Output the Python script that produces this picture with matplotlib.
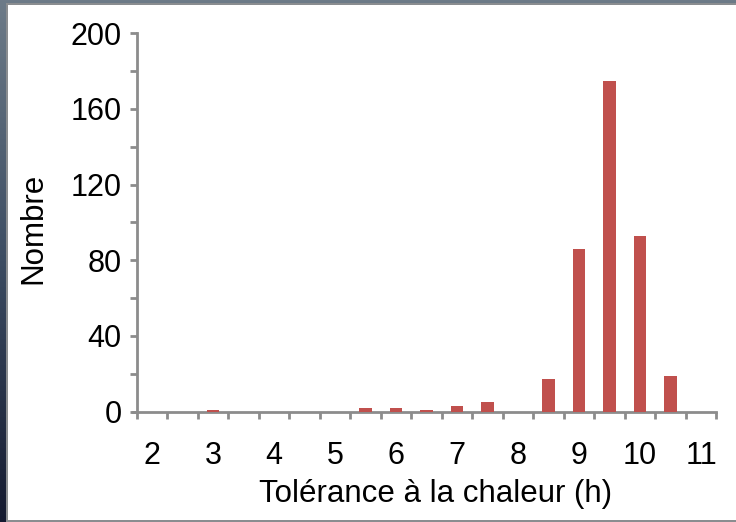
import numpy as np
import matplotlib
matplotlib.use("Agg")
import matplotlib.pyplot as plt
from matplotlib.patches import Rectangle
from matplotlib.colors import LinearSegmentedColormap

# tolerance classes in half-hours, 2 .. 11 h
hours = [2, 2.5, 3, 3.5, 4, 4.5, 5, 5.5, 6, 6.5, 7, 7.5, 8, 8.5, 9, 9.5, 10, 10.5, 11]
counts = [0, 0, 1, 0, 0, 0, 0, 2, 2, 1, 3, 5, 0, 17, 86, 175, 93, 19, 0]
tick_labels = ["2", "3", "4", "5", "6", "7", "8", "9", "10", "11"]

plt.rcParams["font.family"] = ["Liberation Sans", "DejaVu Sans"]

W, H = 736, 522
fig = plt.figure(figsize=(W / 100, H / 100), dpi=100)

# slide background behind the white chart area
bg = fig.add_axes([0, 0, 1, 1], zorder=-10)
cmap = LinearSegmentedColormap.from_list("bg", ["#6d7b88", "#3c4c62", "#141a30"])
bg.imshow(np.linspace(0, 1, 256).reshape(-1, 1), aspect="auto", cmap=cmap,
          extent=[0, 1, 0, 1])
bg.set_xlim(0, 1)
bg.set_ylim(0, 1)
bg.axis("off")
bg.add_patch(Rectangle((6 / W, 0), 1, 1 - 3 / H, facecolor="#8a8d90",
                       edgecolor="none"))
bg.add_patch(Rectangle((8 / W, 2 / H), 1, 1 - 7 / H, facecolor="white",
                       edgecolor="none"))

ax = fig.add_axes([136.7 / W, 1 - 411.5 / H, (716.3 - 136.7) / W, (411.5 - 33.3) / H])
ax.patch.set_alpha(0)

x = np.arange(len(hours))
ax.bar(x, counts, width=0.4, color="#C0504D", edgecolor="none", zorder=3)

ax.set_xlim(-0.5, len(hours) - 0.5)
ax.set_ylim(0, 200)

grey = "#8c8c8c"
for side in ["top", "right"]:
    ax.spines[side].set_visible(False)
for side in ["left", "bottom"]:
    ax.spines[side].set_color(grey)
    ax.spines[side].set_linewidth(2)
ax.spines["bottom"].set_bounds(-0.62, len(hours) - 0.5)

# y: tick every 20, label every 40
ax.set_yticks(np.arange(0, 201, 20))
ax.set_yticklabels([str(v) if v % 40 == 0 else "" for v in range(0, 201, 20)])
ax.tick_params(axis="y", direction="out", length=5, width=2, color=grey,
               labelsize=22, pad=6)

# x: marks between classes, labels on whole hours
ax.set_xticks(np.arange(-0.5, len(hours), 1.0))
ax.set_xticklabels([])
ax.set_xticks([hours.index(float(t)) for t in tick_labels], minor=True)
ax.set_xticklabels(tick_labels, minor=True)
ax.tick_params(axis="x", which="major", direction="out", length=5, width=2, color=grey)
ax.tick_params(axis="x", which="minor", length=0, labelsize=22, pad=21)

fig.text(436 / W, 1 - 494 / H, "Tolérance à la chaleur (h)", fontsize=22.5,
         ha="center", va="center")
fig.text(33 / W, 1 - 228 / H, "Nombre", fontsize=22.5, rotation=90,
         ha="center", va="center")

fig.savefig("out.png", dpi=100)
